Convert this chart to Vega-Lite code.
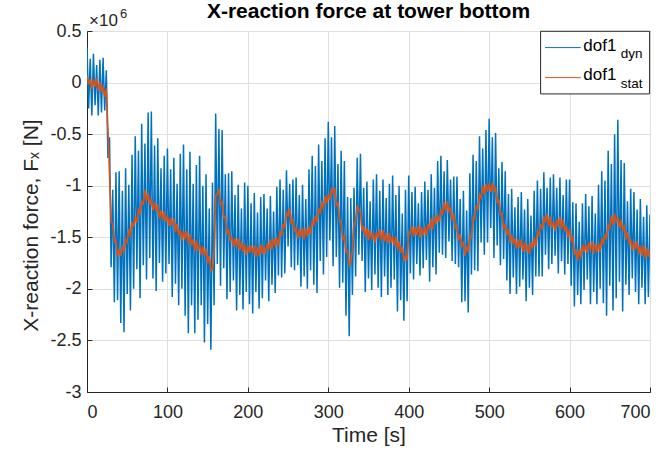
{
  "$schema": "https://vega.github.io/schema/vega-lite/v6.json",
  "width": 563,
  "height": 361,
  "autosize": {"type": "none"},
  "padding": {"left": 87, "top": 31, "right": 15, "bottom": 58},
  "background": "white",
  "title": {"text": "X-reaction force at tower bottom", "fontSize": 21, "fontWeight": "bold", "font": "Liberation Sans", "color": "#000000", "anchor": "middle", "offset": 9, "dy": 23},
  "config": {
    "font": "Liberation Sans",
    "view": {"stroke": "#262626", "strokeWidth": 1},
    "axis": {"domainColor": "#262626", "tickColor": "#262626", "labelColor": "#262626", "titleColor": "#262626", "gridColor": "#dfdfdf", "gridWidth": 1, "labelFontSize": 18, "titleFontSize": 21, "titleFontWeight": "normal", "labelFont": "Liberation Sans", "titleFont": "Liberation Sans", "tickSize": -5}
  },
  "data": {"values": [
{"t":0,"d":0.34,"s":0.07},{"t":2,"d":-0.25,"s":-0.02},{"t":4,"d":0.23,"s":0.03},{"t":6,"d":-0.32,"s":-0.06},{"t":8,"d":0.28,"s":0.03},{"t":10,"d":-0.22,"s":-0.04},{"t":12,"d":0.17,"s":0.04},{"t":14,"d":-0.32,"s":-0.08},{"t":16,"d":0.22,"s":0.01},{"t":18,"d":-0.29,"s":-0.09},
{"t":20,"d":0.24,"s":-0.03},{"t":22,"d":-0.27,"s":-0.14},{"t":24,"d":0.12,"s":-0.06},{"t":26,"d":-0.73,"s":-0.45},{"t":28,"d":-0.53,"s":-0.89},{"t":30,"d":-1.79,"s":-1.35},{"t":32,"d":-1.04,"s":-1.37},{"t":34,"d":-2.13,"s":-1.54},{"t":36,"d":-0.87,"s":-1.53},{"t":38,"d":-2.11,"s":-1.69},
{"t":40,"d":-0.86,"s":-1.62},{"t":42,"d":-2.33,"s":-1.68},{"t":44,"d":-1.05,"s":-1.59},{"t":46,"d":-2.42,"s":-1.63},{"t":48,"d":-0.83,"s":-1.52},{"t":50,"d":-2.05,"s":-1.55},{"t":52,"d":-0.99,"s":-1.42},{"t":54,"d":-2.21,"s":-1.49},{"t":56,"d":-0.7,"s":-1.35},{"t":58,"d":-2.0,"s":-1.4},
{"t":60,"d":-0.52,"s":-1.3},{"t":62,"d":-1.81,"s":-1.36},{"t":64,"d":-0.66,"s":-1.22},{"t":66,"d":-2.09,"s":-1.28},{"t":68,"d":-0.4,"s":-1.15},{"t":70,"d":-1.77,"s":-1.19},{"t":72,"d":-0.59,"s":-1.04},{"t":74,"d":-1.91,"s":-1.15},{"t":76,"d":-0.29,"s":-1.07},{"t":78,"d":-1.7,"s":-1.18},
{"t":80,"d":-0.28,"s":-1.13},{"t":82,"d":-1.9,"s":-1.24},{"t":84,"d":-0.61,"s":-1.16},{"t":86,"d":-2.02,"s":-1.25},{"t":88,"d":-0.54,"s":-1.18},{"t":90,"d":-1.75,"s":-1.32},{"t":92,"d":-0.83,"s":-1.24},{"t":94,"d":-1.93,"s":-1.33},{"t":96,"d":-0.71,"s":-1.25},{"t":98,"d":-1.85,"s":-1.35},
{"t":100,"d":-0.64,"s":-1.29},{"t":102,"d":-1.76,"s":-1.39},{"t":104,"d":-0.84,"s":-1.31},{"t":106,"d":-2.08,"s":-1.39},{"t":108,"d":-0.73,"s":-1.32},{"t":110,"d":-1.95,"s":-1.45},{"t":112,"d":-0.98,"s":-1.37},{"t":114,"d":-2.16,"s":-1.48},{"t":116,"d":-0.69,"s":-1.43},{"t":118,"d":-2.0,"s":-1.53},
{"t":120,"d":-0.6,"s":-1.44},{"t":122,"d":-2.26,"s":-1.52},{"t":124,"d":-0.84,"s":-1.44},{"t":126,"d":-2.43,"s":-1.56},{"t":128,"d":-0.67,"s":-1.47},{"t":130,"d":-2.16,"s":-1.58},{"t":132,"d":-0.98,"s":-1.52},{"t":134,"d":-2.43,"s":-1.63},{"t":136,"d":-0.8,"s":-1.53},{"t":138,"d":-2.3,"s":-1.63},
{"t":140,"d":-0.71,"s":-1.57},{"t":142,"d":-2.16,"s":-1.67},{"t":144,"d":-1.0,"s":-1.59},{"t":146,"d":-2.52,"s":-1.68},{"t":148,"d":-0.89,"s":-1.61},{"t":150,"d":-2.34,"s":-1.75},{"t":152,"d":-1.22,"s":-1.68},{"t":154,"d":-2.59,"s":-1.82},{"t":156,"d":-0.97,"s":-1.81},{"t":158,"d":-2.16,"s":-1.66},
{"t":160,"d":-0.3,"s":-1.1},{"t":162,"d":-1.76,"s":-1.08},{"t":164,"d":-0.45,"s":-1.03},{"t":166,"d":-1.97,"s":-1.18},{"t":168,"d":-0.46,"s":-1.16},{"t":170,"d":-1.8,"s":-1.31},{"t":172,"d":-0.89,"s":-1.3},{"t":174,"d":-2.1,"s":-1.47},{"t":176,"d":-0.88,"s":-1.42},{"t":178,"d":-2.03,"s":-1.54},
{"t":180,"d":-0.86,"s":-1.49},{"t":182,"d":-1.92,"s":-1.59},{"t":184,"d":-1.09,"s":-1.51},{"t":186,"d":-2.21,"s":-1.59},{"t":188,"d":-0.99,"s":-1.51},{"t":190,"d":-2.06,"s":-1.63},{"t":192,"d":-1.22,"s":-1.54},{"t":194,"d":-2.2,"s":-1.64},{"t":196,"d":-0.97,"s":-1.57},{"t":198,"d":-2.03,"s":-1.67},
{"t":200,"d":-1.0,"s":-1.58},{"t":202,"d":-2.15,"s":-1.65},{"t":204,"d":-1.17,"s":-1.58},{"t":206,"d":-2.24,"s":-1.65},{"t":208,"d":-1.07,"s":-1.58},{"t":210,"d":-2.03,"s":-1.69},{"t":212,"d":-1.26,"s":-1.59},{"t":214,"d":-2.19,"s":-1.68},{"t":216,"d":-1.11,"s":-1.57},{"t":218,"d":-2.09,"s":-1.66},
{"t":220,"d":-1.08,"s":-1.58},{"t":222,"d":-1.92,"s":-1.66},{"t":224,"d":-1.22,"s":-1.56},{"t":226,"d":-2.12,"s":-1.62},{"t":228,"d":-1.1,"s":-1.52},{"t":230,"d":-1.96,"s":-1.62},{"t":232,"d":-1.25,"s":-1.51},{"t":234,"d":-2.04,"s":-1.59},{"t":236,"d":-1.01,"s":-1.5},{"t":238,"d":-1.87,"s":-1.58},
{"t":240,"d":-0.94,"s":-1.44},{"t":242,"d":-1.89,"s":-1.49},{"t":244,"d":-1.04,"s":-1.37},{"t":246,"d":-1.85,"s":-1.41},{"t":248,"d":-0.85,"s":-1.26},{"t":250,"d":-1.59,"s":-1.29},{"t":252,"d":-0.98,"s":-1.22},{"t":254,"d":-1.79,"s":-1.37},{"t":256,"d":-0.94,"s":-1.32},{"t":258,"d":-1.82,"s":-1.45},
{"t":260,"d":-0.92,"s":-1.41},{"t":262,"d":-1.77,"s":-1.51},{"t":264,"d":-1.09,"s":-1.42},{"t":266,"d":-1.98,"s":-1.49},{"t":268,"d":-0.99,"s":-1.41},{"t":270,"d":-1.88,"s":-1.52},{"t":272,"d":-1.13,"s":-1.41},{"t":274,"d":-2.0,"s":-1.49},{"t":276,"d":-0.84,"s":-1.4},{"t":278,"d":-1.82,"s":-1.47},
{"t":280,"d":-0.71,"s":-1.33},{"t":282,"d":-1.96,"s":-1.39},{"t":284,"d":-0.81,"s":-1.29},{"t":286,"d":-2.04,"s":-1.35},{"t":288,"d":-0.6,"s":-1.22},{"t":290,"d":-1.73,"s":-1.27},{"t":292,"d":-0.76,"s":-1.15},{"t":294,"d":-1.86,"s":-1.23},{"t":296,"d":-0.54,"s":-1.1},{"t":298,"d":-1.69,"s":-1.17},
{"t":300,"d":-0.38,"s":-1.08},{"t":302,"d":-1.53,"s":-1.14},{"t":304,"d":-0.53,"s":-1.02},{"t":306,"d":-1.78,"s":-1.07},{"t":308,"d":-0.42,"s":-1.02},{"t":310,"d":-1.69,"s":-1.19},{"t":312,"d":-0.79,"s":-1.17},{"t":314,"d":-1.99,"s":-1.34},{"t":316,"d":-0.66,"s":-1.35},{"t":318,"d":-1.94,"s":-1.52},
{"t":320,"d":-0.76,"s":-1.49},{"t":322,"d":-2.26,"s":-1.64},{"t":324,"d":-1.11,"s":-1.63},{"t":326,"d":-2.46,"s":-1.78},{"t":328,"d":-1.12,"s":-1.73},{"t":330,"d":-2.06,"s":-1.63},{"t":332,"d":-1.02,"s":-1.36},{"t":334,"d":-1.88,"s":-1.35},{"t":336,"d":-0.73,"s":-1.19},{"t":338,"d":-1.67,"s":-1.24},
{"t":340,"d":-0.69,"s":-1.25},{"t":342,"d":-1.73,"s":-1.44},{"t":344,"d":-1.02,"s":-1.39},{"t":346,"d":-2.03,"s":-1.49},{"t":348,"d":-0.96,"s":-1.41},{"t":350,"d":-1.9,"s":-1.53},{"t":352,"d":-1.15,"s":-1.43},{"t":354,"d":-2.01,"s":-1.52},{"t":356,"d":-0.94,"s":-1.46},{"t":358,"d":-1.86,"s":-1.55},
{"t":360,"d":-0.89,"s":-1.45},{"t":362,"d":-1.99,"s":-1.51},{"t":364,"d":-1.05,"s":-1.42},{"t":366,"d":-2.08,"s":-1.53},{"t":368,"d":-0.94,"s":-1.43},{"t":370,"d":-1.88,"s":-1.54},{"t":372,"d":-1.12,"s":-1.46},{"t":374,"d":-2.06,"s":-1.56},{"t":376,"d":-0.98,"s":-1.46},{"t":378,"d":-1.99,"s":-1.55},
{"t":380,"d":-0.9,"s":-1.49},{"t":382,"d":-1.91,"s":-1.58},{"t":384,"d":-1.09,"s":-1.49},{"t":386,"d":-2.22,"s":-1.62},{"t":388,"d":-1.0,"s":-1.54},{"t":390,"d":-2.11,"s":-1.65},{"t":392,"d":-1.27,"s":-1.59},{"t":394,"d":-2.31,"s":-1.73},{"t":396,"d":-1.04,"s":-1.68},{"t":398,"d":-2.12,"s":-1.71},
{"t":400,"d":-0.9,"s":-1.45},{"t":402,"d":-1.85,"s":-1.46},{"t":404,"d":-1.06,"s":-1.39},{"t":406,"d":-1.91,"s":-1.49},{"t":408,"d":-1.01,"s":-1.4},{"t":410,"d":-1.76,"s":-1.48},{"t":412,"d":-1.17,"s":-1.39},{"t":414,"d":-1.87,"s":-1.5},{"t":416,"d":-1.06,"s":-1.4},{"t":418,"d":-1.8,"s":-1.48},
{"t":420,"d":-0.96,"s":-1.4},{"t":422,"d":-1.72,"s":-1.48},{"t":424,"d":-1.04,"s":-1.37},{"t":426,"d":-1.93,"s":-1.43},{"t":428,"d":-0.89,"s":-1.32},{"t":430,"d":-1.79,"s":-1.42},{"t":432,"d":-1.02,"s":-1.3},{"t":434,"d":-1.86,"s":-1.37},{"t":436,"d":-0.76,"s":-1.28},{"t":438,"d":-1.65,"s":-1.35},
{"t":440,"d":-0.71,"s":-1.23},{"t":442,"d":-1.67,"s":-1.27},{"t":444,"d":-0.86,"s":-1.16},{"t":446,"d":-1.7,"s":-1.25},{"t":448,"d":-0.75,"s":-1.15},{"t":450,"d":-1.54,"s":-1.25},{"t":452,"d":-0.94,"s":-1.21},{"t":454,"d":-1.73,"s":-1.34},{"t":456,"d":-0.91,"s":-1.27},{"t":458,"d":-1.76,"s":-1.41},
{"t":460,"d":-0.91,"s":-1.39},{"t":462,"d":-1.79,"s":-1.53},{"t":464,"d":-1.13,"s":-1.47},{"t":466,"d":-2.13,"s":-1.59},{"t":468,"d":-1.05,"s":-1.54},{"t":470,"d":-2.12,"s":-1.68},{"t":472,"d":-1.24,"s":-1.59},{"t":474,"d":-2.23,"s":-1.64},{"t":476,"d":-0.88,"s":-1.49},{"t":478,"d":-1.86,"s":-1.5},
{"t":480,"d":-0.7,"s":-1.31},{"t":482,"d":-1.82,"s":-1.32},{"t":484,"d":-0.76,"s":-1.19},{"t":486,"d":-1.83,"s":-1.23},{"t":488,"d":-0.52,"s":-1.09},{"t":490,"d":-1.55,"s":-1.12},{"t":492,"d":-0.64,"s":-1.0},{"t":494,"d":-1.67,"s":-1.09},{"t":496,"d":-0.46,"s":-0.98},{"t":498,"d":-1.55,"s":-1.06},
{"t":500,"d":-0.35,"s":-0.98},{"t":502,"d":-1.41,"s":-1.06},{"t":504,"d":-0.53,"s":-0.97},{"t":506,"d":-1.7,"s":-1.06},{"t":508,"d":-0.49,"s":-1.01},{"t":510,"d":-1.58,"s":-1.17},{"t":512,"d":-0.83,"s":-1.13},{"t":514,"d":-1.77,"s":-1.28},{"t":516,"d":-0.77,"s":-1.27},{"t":518,"d":-1.71,"s":-1.42},
{"t":520,"d":-0.86,"s":-1.37},{"t":522,"d":-1.92,"s":-1.48},{"t":524,"d":-1.08,"s":-1.42},{"t":526,"d":-2.05,"s":-1.55},{"t":528,"d":-1.03,"s":-1.47},{"t":530,"d":-1.89,"s":-1.57},{"t":532,"d":-1.21,"s":-1.51},{"t":534,"d":-2.05,"s":-1.61},{"t":536,"d":-1.11,"s":-1.52},{"t":538,"d":-1.98,"s":-1.6},
{"t":540,"d":-1.06,"s":-1.52},{"t":542,"d":-1.91,"s":-1.64},{"t":544,"d":-1.23,"s":-1.55},{"t":546,"d":-2.12,"s":-1.64},{"t":548,"d":-1.13,"s":-1.57},{"t":550,"d":-1.99,"s":-1.66},{"t":552,"d":-1.29,"s":-1.55},{"t":554,"d":-2.06,"s":-1.61},{"t":556,"d":-1.05,"s":-1.5},{"t":558,"d":-1.88,"s":-1.59},
{"t":560,"d":-0.95,"s":-1.45},{"t":562,"d":-1.88,"s":-1.48},{"t":564,"d":-1.03,"s":-1.37},{"t":566,"d":-1.88,"s":-1.42},{"t":568,"d":-0.87,"s":-1.3},{"t":570,"d":-1.67,"s":-1.36},{"t":572,"d":-1.02,"s":-1.27},{"t":574,"d":-1.81,"s":-1.39},{"t":576,"d":-0.92,"s":-1.3},{"t":578,"d":-1.76,"s":-1.41},
{"t":580,"d":-0.89,"s":-1.35},{"t":582,"d":-1.68,"s":-1.44},{"t":584,"d":-1.02,"s":-1.33},{"t":586,"d":-1.85,"s":-1.39},{"t":588,"d":-0.92,"s":-1.3},{"t":590,"d":-1.73,"s":-1.42},{"t":592,"d":-1.09,"s":-1.33},{"t":594,"d":-1.86,"s":-1.44},{"t":596,"d":-0.94,"s":-1.39},{"t":598,"d":-1.76,"s":-1.5},
{"t":600,"d":-0.94,"s":-1.42},{"t":602,"d":-1.97,"s":-1.53},{"t":604,"d":-1.16,"s":-1.5},{"t":606,"d":-2.17,"s":-1.67},{"t":608,"d":-1.17,"s":-1.62},{"t":610,"d":-2.06,"s":-1.73},{"t":612,"d":-1.35,"s":-1.62},{"t":614,"d":-2.15,"s":-1.7},{"t":616,"d":-1.17,"s":-1.57},{"t":618,"d":-2.01,"s":-1.64},
{"t":620,"d":-1.08,"s":-1.57},{"t":622,"d":-1.91,"s":-1.65},{"t":624,"d":-1.2,"s":-1.55},{"t":626,"d":-2.15,"s":-1.63},{"t":628,"d":-1.1,"s":-1.54},{"t":630,"d":-2.03,"s":-1.66},{"t":632,"d":-1.27,"s":-1.56},{"t":634,"d":-2.15,"s":-1.64},{"t":636,"d":-0.99,"s":-1.56},{"t":638,"d":-2.0,"s":-1.64},
{"t":640,"d":-0.86,"s":-1.51},{"t":642,"d":-2.14,"s":-1.57},{"t":644,"d":-0.95,"s":-1.47},{"t":646,"d":-2.26,"s":-1.52},{"t":648,"d":-0.66,"s":-1.38},{"t":650,"d":-1.97,"s":-1.41},{"t":652,"d":-0.79,"s":-1.29},{"t":654,"d":-2.21,"s":-1.38},{"t":656,"d":-0.5,"s":-1.27},{"t":658,"d":-2.09,"s":-1.36},
{"t":660,"d":-0.36,"s":-1.3},{"t":662,"d":-1.93,"s":-1.41},{"t":664,"d":-0.75,"s":-1.33},{"t":666,"d":-2.22,"s":-1.44},{"t":668,"d":-0.78,"s":-1.38},{"t":670,"d":-1.96,"s":-1.52},{"t":672,"d":-1.15,"s":-1.45},{"t":674,"d":-2.06,"s":-1.57},{"t":676,"d":-1.03,"s":-1.52},{"t":678,"d":-1.9,"s":-1.63},
{"t":680,"d":-1.06,"s":-1.54},{"t":682,"d":-2.03,"s":-1.62},{"t":684,"d":-1.23,"s":-1.54},{"t":686,"d":-2.15,"s":-1.66},{"t":688,"d":-1.13,"s":-1.58},{"t":690,"d":-1.99,"s":-1.68},{"t":692,"d":-1.3,"s":-1.58},{"t":694,"d":-2.15,"s":-1.7},{"t":696,"d":-1.19,"s":-1.6},{"t":698,"d":-2.08,"s":-1.69},
{"t":700,"d":-1.28,"s":-1.63}
  ]},
  "layer": [
    {
      "mark": {"type": "line", "color": "#0072BD", "strokeWidth": 1.5, "clip": true},
      "encoding": {
        "x": {"field": "t", "type": "quantitative", "scale": {"domain": [0, 700], "nice": false, "zero": false}, "axis": {"title": "Time [s]", "values": [0, 100, 200, 300, 400, 500, 600, 700], "labelPadding": 16, "titlePadding": 3}},
        "y": {"field": "d", "type": "quantitative", "scale": {"domain": [-3, 0.5], "nice": false, "zero": false}, "axis": {"title": "X-reaction force, Fₓ [N]", "values": [-3, -2.5, -2, -1.5, -1, -0.5, 0, 0.5], "labelExpr": "'' + datum.value", "labelPadding": 11, "titlePadding": 8, "titleY": 194}}
      }
    },
    {
      "mark": {"type": "line", "color": "#D95319", "strokeWidth": 1.6, "clip": true},
      "encoding": {
        "x": {"field": "t", "type": "quantitative"},
        "y": {"field": "s", "type": "quantitative"}
      }
    },
    {
      "data": {"values": [{}]},
      "mark": {"type": "rect", "fill": "white", "stroke": "#262626", "strokeWidth": 1},
      "encoding": {
        "x": {"datum": 564, "type": "quantitative"}, "x2": {"datum": 699.5},
        "y": {"datum": 0.497, "type": "quantitative"}, "y2": {"datum": -0.11}
      }
    },
    {
      "data": {"values": [{}]},
      "mark": {"type": "rule", "color": "#0072BD", "strokeWidth": 1},
      "encoding": {
        "x": {"datum": 569.5, "type": "quantitative"}, "x2": {"datum": 614},
        "y": {"datum": 0.339, "type": "quantitative"}
      }
    },
    {
      "data": {"values": [{}]},
      "mark": {"type": "rule", "color": "#D95319", "strokeWidth": 1},
      "encoding": {
        "x": {"datum": 569.5, "type": "quantitative"}, "x2": {"datum": 614},
        "y": {"datum": 0.048, "type": "quantitative"}
      }
    },
    {
      "data": {"values": [{}]},
      "mark": {"type": "text", "text": "dof1", "fontSize": 17, "align": "left", "baseline": "alphabetic", "color": "#000000"},
      "encoding": {"x": {"datum": 617, "type": "quantitative"}, "y": {"datum": 0.31, "type": "quantitative"}}
    },
    {
      "data": {"values": [{}]},
      "mark": {"type": "text", "text": "dyn", "fontSize": 13.5, "align": "left", "baseline": "alphabetic", "color": "#000000"},
      "encoding": {"x": {"datum": 663.5, "type": "quantitative"}, "y": {"datum": 0.236, "type": "quantitative"}}
    },
    {
      "data": {"values": [{}]},
      "mark": {"type": "text", "text": "dof1", "fontSize": 17, "align": "left", "baseline": "alphabetic", "color": "#000000"},
      "encoding": {"x": {"datum": 617, "type": "quantitative"}, "y": {"datum": 0.026, "type": "quantitative"}}
    },
    {
      "data": {"values": [{}]},
      "mark": {"type": "text", "text": "stat", "fontSize": 13.5, "align": "left", "baseline": "alphabetic", "color": "#000000"},
      "encoding": {"x": {"datum": 663.5, "type": "quantitative"}, "y": {"datum": -0.054, "type": "quantitative"}}
    },
    {
      "data": {"values": [{}]},
      "mark": {"type": "text", "text": "×10", "fontSize": 17, "align": "left", "baseline": "alphabetic", "color": "#262626", "dx": 2, "dy": -5},
      "encoding": {"x": {"datum": 0, "type": "quantitative"}, "y": {"datum": 0.5, "type": "quantitative"}}
    },
    {
      "data": {"values": [{}]},
      "mark": {"type": "text", "text": "6", "fontSize": 13, "align": "left", "baseline": "alphabetic", "color": "#262626", "dx": 33, "dy": -13},
      "encoding": {"x": {"datum": 0, "type": "quantitative"}, "y": {"datum": 0.5, "type": "quantitative"}}
    }
  ]
}
